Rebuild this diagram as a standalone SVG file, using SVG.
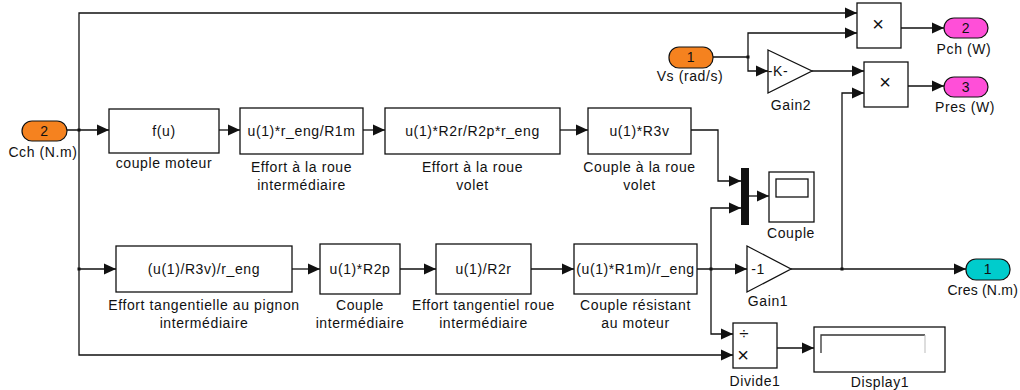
<svg xmlns="http://www.w3.org/2000/svg" width="1020" height="390" viewBox="0 0 1020 390">
<style>
text{font-family:"Liberation Sans",Arial,sans-serif;font-size:14px;letter-spacing:0.6px;fill:#111;text-anchor:middle}
.blk{fill:#fff;stroke:#111;stroke-width:1.3}
.w{fill:none;stroke:#111;stroke-width:1.3}
.in{fill:#F5821F;stroke:#111;stroke-width:1.2}
.outm{fill:#FF4FD8;stroke:#111;stroke-width:1.2}
.outc{fill:#00CCCC;stroke:#111;stroke-width:1.2}
.dot{fill:#111}
.op{font-size:20px;letter-spacing:0}
</style>
<defs>
<marker id="a" markerWidth="12" markerHeight="12" refX="12" refY="6" orient="auto" markerUnits="userSpaceOnUse"><path d="M0,0.5 L12,6 L0,11.5 z" fill="#111"/></marker>
</defs>
<rect width="1020" height="390" fill="#fff"/>
<g id="connectors" class="w" marker-end="url(#a)">
<path d="M67,130 H109"/>
<path d="M79,130 V13 H857"/>
<path d="M79,130 V355 H733"/>
<path d="M79,269 H116"/>
<path d="M219,130 H240"/>
<path d="M363,130 H385"/>
<path d="M560,130 H588"/>
<path d="M691,130 H718 V181 H741"/>
<path d="M292,269 H320"/>
<path d="M400,269 H436"/>
<path d="M531,269 H574"/>
<path d="M697,269 H747"/>
<path d="M711,269 V208 H741"/>
<path d="M711,269 V334 H733"/>
<path d="M749,196 H769"/>
<path d="M791,269 H966"/>
<path d="M842,269 V93 H864"/>
<path d="M713,57 H748 V33 H857"/>
<path d="M748,57 V71 H768"/>
<path d="M812,71 H864"/>
<path d="M901,28 H944"/>
<path d="M908,86 H944"/>
<path d="M777,348 H814"/>
</g>
<g id="junctions">
<rect class="dot" x="77.5" y="128.5" width="3" height="3"/>
<rect class="dot" x="77.5" y="267.5" width="3" height="3"/>
<rect class="dot" x="709.5" y="267.5" width="3" height="3"/>
<rect class="dot" x="840.5" y="267.5" width="3" height="3"/>
<rect class="dot" x="746.5" y="55.5" width="3" height="3"/>
</g>
<g id="Cch">
<rect class="in" x="22" y="121" width="45" height="20" rx="10"/>
<text x="44.5" y="136">2</text>
<text x="43" y="157">Cch (N.m)</text>
</g>
<g id="couple_moteur">
<rect class="blk" x="109" y="109" width="110" height="44"/>
<text x="164" y="136">f(u)</text>
<text x="164" y="168">couple moteur</text>
</g>
<g id="effort_roue_int">
<rect class="blk" x="240" y="108" width="123" height="46"/>
<text x="301.5" y="136">u(1)*r_eng/R1m</text>
<text x="301.5" y="172">Effort à la roue</text>
<text x="301.5" y="190">intermédiaire</text>
</g>
<g id="effort_roue_volet">
<rect class="blk" x="385" y="108" width="175" height="46"/>
<text x="472.5" y="136">u(1)*R2r/R2p*r_eng</text>
<text x="472.5" y="172">Effort à la roue</text>
<text x="472.5" y="190">volet</text>
</g>
<g id="couple_roue_volet">
<rect class="blk" x="588" y="108" width="103" height="46"/>
<text x="639.5" y="136">u(1)*R3v</text>
<text x="639.5" y="172">Couple à la roue</text>
<text x="639.5" y="190">volet</text>
</g>
<g id="effort_pignon">
<rect class="blk" x="116" y="246" width="176" height="46"/>
<text x="204" y="274">(u(1)/R3v)/r_eng</text>
<text x="204" y="310">Effort tangentielle au pignon</text>
<text x="204" y="328">intermédiaire</text>
</g>
<g id="couple_int">
<rect class="blk" x="320" y="244" width="80" height="50"/>
<text x="360" y="274">u(1)*R2p</text>
<text x="360" y="310">Couple</text>
<text x="360" y="328">intermédiaire</text>
</g>
<g id="effort_tang_roue">
<rect class="blk" x="436" y="244" width="95" height="50"/>
<text x="483.5" y="274">u(1)/R2r</text>
<text x="483.5" y="310">Effort tangentiel roue</text>
<text x="483.5" y="328">intermédiaire</text>
</g>
<g id="couple_resistant">
<rect class="blk" x="574" y="244" width="123" height="50"/>
<text x="635.5" y="274">(u(1)*R1m)/r_eng</text>
<text x="635.5" y="310">Couple résistant</text>
<text x="635.5" y="328">au moteur</text>
</g>
<g id="Mux">
<rect x="741" y="168" width="8" height="57" fill="#111"/>
</g>
<g id="Couple">
<rect class="blk" x="769" y="172" width="45" height="50"/>
<rect class="blk" x="776" y="179" width="32" height="18"/>
<text x="791" y="238">Couple</text>
</g>
<g id="Gain1">
<path class="blk" d="M747,246 L791,269 L747,292 z"/>
<text x="758" y="274">-1</text>
<text x="768" y="306">Gain1</text>
</g>
<g id="Cres">
<rect class="outc" x="966" y="259" width="44" height="21" rx="10"/>
<text x="988" y="274">1</text>
<text x="1018" y="295" style="text-anchor:end;letter-spacing:0.2px">Cres (N.m)</text>
</g>
<g id="Divide1">
<rect class="blk" x="733" y="323" width="44" height="45"/>
<text x="744" y="339" style="font-size:17px;letter-spacing:0">÷</text>
<text class="op" x="743" y="362">×</text>
<text x="755" y="386">Divide1</text>
</g>
<g id="Display1">
<rect class="blk" x="814" y="327" width="131" height="45"/>
<path d="M821,353 V335 H925" fill="none" stroke="#333" stroke-width="1.3"/>
<path d="M925,335 V353" fill="none" stroke="#bbb" stroke-width="1"/>
<text x="880" y="387">Display1</text>
</g>
<g id="Vs">
<rect class="in" x="669" y="47" width="44" height="21" rx="10"/>
<text x="691" y="62">1</text>
<text x="690" y="81">Vs (rad/s)</text>
</g>
<g id="Gain2">
<path class="blk" d="M768,50 L812,71 L768,93 z"/>
<text x="778" y="76">-K-</text>
<text x="791" y="110">Gain2</text>
</g>
<g id="Product1">
<rect class="blk" x="857" y="3" width="44" height="45"/>
<text class="op" x="878" y="31">×</text>
</g>
<g id="Product2">
<rect class="blk" x="864" y="62" width="44" height="45"/>
<text class="op" x="885" y="89">×</text>
</g>
<g id="Pch">
<rect class="outm" x="944" y="18" width="44" height="20" rx="10"/>
<text x="966" y="33">2</text>
<text x="964" y="54">Pch (W)</text>
</g>
<g id="Pres">
<rect class="outm" x="944" y="77" width="44" height="20" rx="10"/>
<text x="966" y="92">3</text>
<text x="965" y="112">Pres (W)</text>
</g>
</svg>
